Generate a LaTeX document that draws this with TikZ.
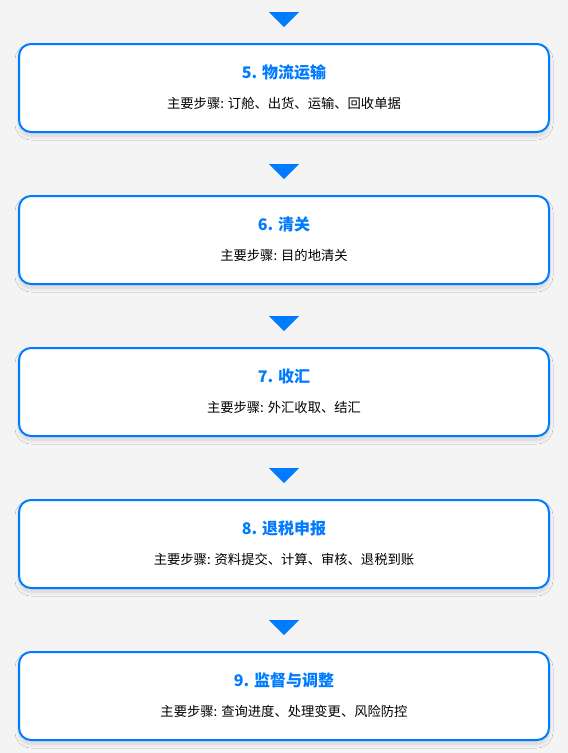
\documentclass[tikz,border=0pt]{standalone}
\usepackage{fontspec}
\setmainfont{Noto Sans CJK SC}
\usetikzlibrary{positioning,shadows.blur}
\definecolor{flowblue}{RGB}{0,123,255}
\definecolor{pagebg}{RGB}{244,244,244}
\newcommand{\flowstage}[4]{%
  \node[stagebox] (#1) at (284,#2) {};
  \node[ttl] (#1t) at ([yshift=16pt]#1.center) {#3};
  \node[stp] (#1s) at ([yshift=-15.5pt]#1.center) {#4};
  \fill[darr] ([shift={(-15pt,31pt)}]#1.north) -- ([shift={(15pt,31pt)}]#1.north)
    -- ([yshift=16pt]#1.north) -- cycle;}
\tikzset{
  stagebox/.style={draw=flowblue, line width=2pt, fill=white, rounded corners=12pt,
    minimum width=530pt, minimum height=88pt, inner sep=0pt,
    blur shadow={shadow xshift=0pt, shadow yshift=-4pt, shadow blur radius=4pt,
      shadow blur steps=16, shadow opacity=14, shadow blur extra rounding=4pt}},
  ttl/.style={font=\fontsize{16}{18}\selectfont\bfseries, text=flowblue},
  stp/.style={font=\fontsize{13.3}{15}\selectfont, text=black},
  darr/.style={fill=flowblue},
}
\begin{document}
\begin{tikzpicture}[x=1pt,y=1pt]
\fill[pagebg] (0,0) rectangle (568,-753);
\useasboundingbox (0,0) rectangle (568,-753);
\flowstage{s5}{-88}{5. 物流运输}{主要步骤: 订舱、出货、运输、回收单据}
\flowstage{s6}{-240}{6. 清关}{主要步骤: 目的地清关}
\flowstage{s7}{-392}{7. 收汇}{主要步骤: 外汇收取、结汇}
\flowstage{s8}{-544}{8. 退税申报}{主要步骤: 资料提交、计算、审核、退税到账}
\flowstage{s9}{-696}{9. 监督与调整}{主要步骤: 查询进度、处理变更、风险防控}
\end{tikzpicture}
\end{document}
